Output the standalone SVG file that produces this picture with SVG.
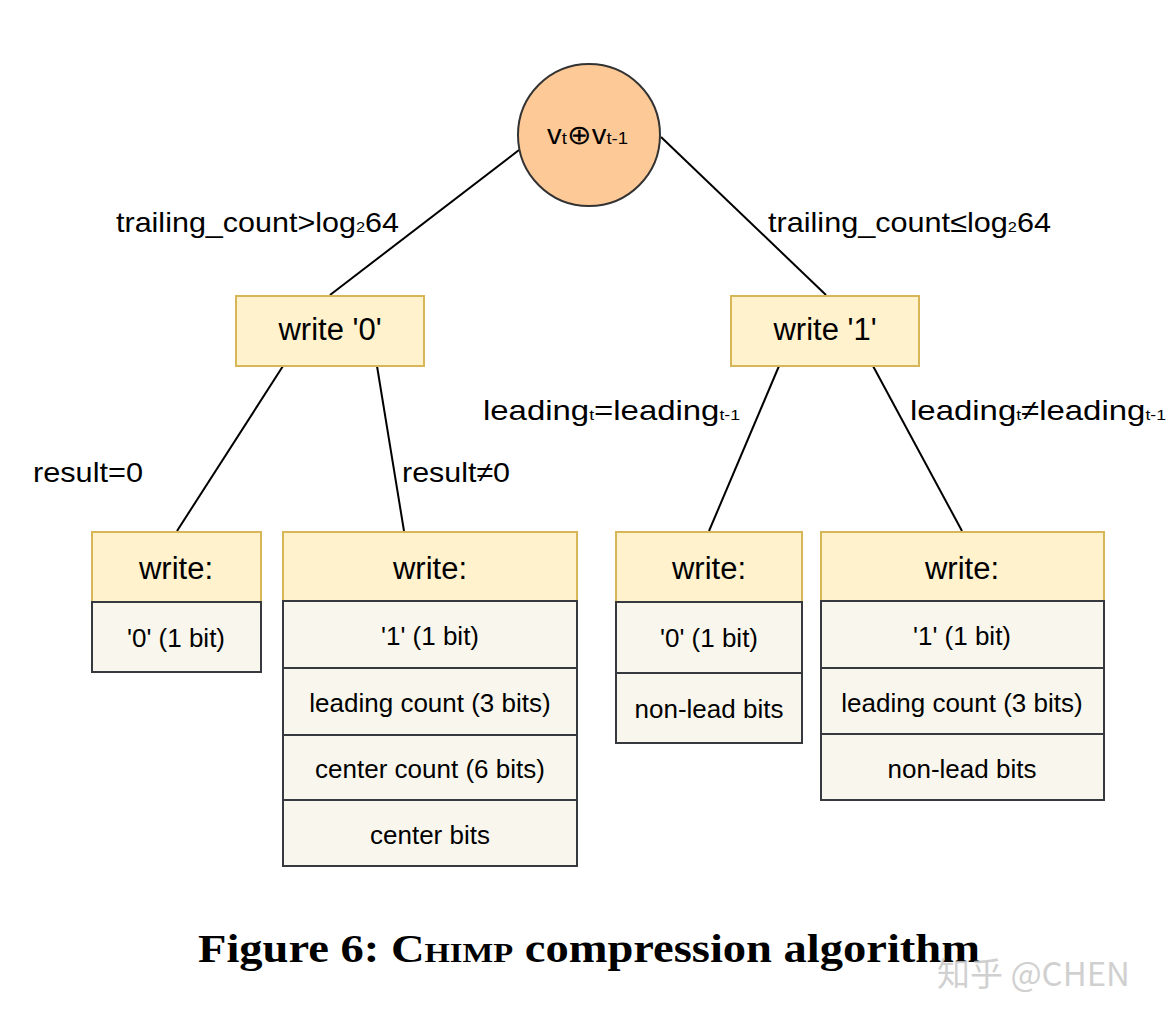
<svg xmlns="http://www.w3.org/2000/svg" width="1176" height="1022" viewBox="0 0 1176 1022">
<style>
text{font-family:"Liberation Sans",Arial,sans-serif;fill:#000}
.lbl{font-size:28px}
.sub{font-size:15px}
.hd{fill:#fff2cc;stroke:#d6b656;stroke-width:2}
.row{fill:#f9f7ed;stroke:#36393d;stroke-width:2}
.ht{font-size:31px;text-anchor:middle}
.rt{font-size:26px;text-anchor:middle}
.ln{stroke:#000;stroke-width:2;fill:none}
</style>
<rect width="1176" height="1022" fill="#fff"/>
<g id="connectors">
<line class="ln" x1="519" y1="150" x2="330" y2="295"/>
<line class="ln" x1="661" y1="137" x2="826" y2="295"/>
<line class="ln" x1="283" y1="366" x2="177" y2="531"/>
<line class="ln" x1="377" y1="366" x2="404" y2="531"/>
<line class="ln" x1="779" y1="366" x2="709" y2="531"/>
<line class="ln" x1="873" y1="366" x2="962" y2="531"/>
</g>
<g id="root">
<circle cx="589" cy="135" r="71" fill="#fdc996" stroke="#333" stroke-width="2"/>
<text x="547" y="144" font-size="27" textLength="81" lengthAdjust="spacingAndGlyphs">v<tspan font-size="17">t</tspan>⊕v<tspan font-size="17">t-1</tspan></text>
</g>
<g id="labels">
<text class="lbl" x="116" y="232" textLength="283" lengthAdjust="spacingAndGlyphs">trailing_count&gt;log<tspan class="sub">2</tspan>64</text>
<text class="lbl" x="768" y="232" textLength="283" lengthAdjust="spacingAndGlyphs">trailing_count≤log<tspan class="sub">2</tspan>64</text>
<text class="lbl" x="483" y="420" textLength="257" lengthAdjust="spacingAndGlyphs">leading<tspan class="sub">t</tspan>=leading<tspan class="sub">t-1</tspan></text>
<text class="lbl" x="910" y="420" textLength="256" lengthAdjust="spacingAndGlyphs">leading<tspan class="sub">t</tspan>≠leading<tspan class="sub">t-1</tspan></text>
<text class="lbl" x="33" y="482" textLength="110" lengthAdjust="spacingAndGlyphs">result=0</text>
<text class="lbl" x="402" y="482" textLength="108" lengthAdjust="spacingAndGlyphs">result≠0</text>
</g>
<g id="w0"><rect class="hd" x="236" y="296" width="188" height="70"/><text class="ht" x="330" y="340">write '0'</text></g>
<g id="w1"><rect class="hd" x="731" y="296" width="188" height="70"/><text class="ht" x="825" y="340">write '1'</text></g>
<g id="t1">
<rect class="hd" x="92" y="532" width="169" height="70"/><text class="ht" x="176" y="579">write:</text>
<rect class="row" x="92" y="602" width="169" height="70"/><text class="rt" x="176" y="647">'0' (1 bit)</text>
</g>
<g id="t2">
<rect class="hd" x="283" y="532" width="294" height="69"/><text class="ht" x="430" y="579">write:</text>
<rect class="row" x="283" y="601" width="294" height="67"/><text class="rt" x="430" y="645">'1' (1 bit)</text>
<rect class="row" x="283" y="668" width="294" height="67"/><text class="rt" x="430" y="712">leading count (3 bits)</text>
<rect class="row" x="283" y="735" width="294" height="65"/><text class="rt" x="430" y="778">center count (6 bits)</text>
<rect class="row" x="283" y="800" width="294" height="66"/><text class="rt" x="430" y="844">center bits</text>
</g>
<g id="t3">
<rect class="hd" x="616" y="532" width="186" height="70"/><text class="ht" x="709" y="579">write:</text>
<rect class="row" x="616" y="602" width="186" height="71"/><text class="rt" x="709" y="647">'0' (1 bit)</text>
<rect class="row" x="616" y="673" width="186" height="70"/><text class="rt" x="709" y="718">non-lead bits</text>
</g>
<g id="t4">
<rect class="hd" x="821" y="532" width="283" height="69"/><text class="ht" x="962" y="579">write:</text>
<rect class="row" x="821" y="601" width="283" height="67"/><text class="rt" x="962" y="645">'1' (1 bit)</text>
<rect class="row" x="821" y="668" width="283" height="66"/><text class="rt" x="962" y="712">leading count (3 bits)</text>
<rect class="row" x="821" y="734" width="283" height="66"/><text class="rt" x="962" y="778">non-lead bits</text>
</g>
<text x="198" y="962" textLength="782" lengthAdjust="spacingAndGlyphs" style="font-family:'Liberation Serif',serif;font-weight:bold;font-size:40px">Figure 6: <tspan font-variant="small-caps">Chimp</tspan> compression algorithm</text>
<text x="937" y="986" style="font-family:'Noto Sans CJK SC','Liberation Sans',sans-serif;font-size:33px;fill:#c8c8c8;fill-opacity:0.85">知乎 @CHEN</text>
</svg>
